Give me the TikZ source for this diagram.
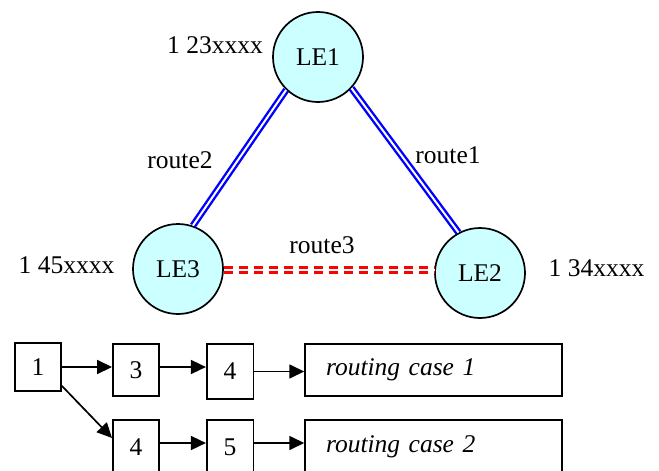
\documentclass[tikz,border=0pt]{standalone}
\usepackage{fontspec}
\setmainfont{Liberation Serif}
\newfontfamily\mainserif{Liberation Serif}
\usetikzlibrary{arrows.meta}
\definecolor{cyanfill}{RGB}{204,255,255}
\begin{document}
\begin{tikzpicture}[x=1pt,y=-1pt,
  every node/.style={font=\mainserif\fontsize{25.5}{30}\selectfont, inner sep=0pt},
  le/.style={circle, draw, line width=1.7pt, fill=cyanfill, minimum size=90pt},
  lbl/.style={},
  box/.style={draw, line width=1.6pt, rectangle},
  casebox/.style={draw, line width=1.6pt, rectangle, minimum width=256.7pt, text width=214.7pt, inner xsep=21pt, align=left, font=\mainserif\fontsize{25.5}{30}\selectfont\itshape},
  blueroute/.style={draw=blue, line width=2.4pt, double=white, double distance=2pt},
  redroute/.style={draw=red, line width=2.8pt, double=white, double distance=2.5pt, dash pattern=on 9pt off 6pt},
  arr/.style={line width=1.7pt, -{Triangle[length=15pt,width=14pt]}}
]
\useasboundingbox (0,0) rectangle (659,471);

% network
\node[le] (LE1) at (318,57) {LE1};
\node[le] (LE3) at (178,269) {LE3};
\node[le] (LE2) at (480,273) {LE2};

\node[lbl] (n1) at (215,45) {1 23xxxx};
\node[lbl] (n3) at (66.5,265) {1 45xxxx};
\node[lbl] (n2) at (596.5,268) {1 34xxxx};

\node[lbl] (r2) at (180,160) {route2};
\node[lbl] (r1) at (448,155) {route1};
\node[lbl] (r3) at (322,245) {route3};

\draw[blueroute] (LE1.226) -- (LE3.71);
\draw[blueroute] (LE1.317) -- (LE2.118);
\draw[redroute] ([yshift=-1pt]LE3.east) -- ([yshift=-1pt]LE3.east -| LE2.west);

% routing trees
\node[box, minimum width=46pt, minimum height=48pt] (b1) at (38,367) {1};
\node[box, minimum width=46.3pt, minimum height=52pt] (b3) at (136,370) {3};
\node[box, minimum width=46.6pt, minimum height=55pt] (b4a) at (230,371.5) {4};
\node[casebox, minimum height=52pt] (rc1) at (433.4,370) {routing case 1};

\node[box, minimum width=46.3pt, minimum height=54pt] (b4b) at (136,447) {4};
\node[box, minimum width=46.6pt, minimum height=54pt] (b5) at (230,447) {5};
\node[casebox, minimum height=54pt] (rc2) at (433.4,447) {routing case 2};

\draw[arr] (b1.east) -- (b1.east -| b3.west);
\draw[arr] ([yshift=3pt]b3.east) -- ([yshift=3pt]b3.east -| b4a.west);
\draw[arr] (b4a.east) -- (b4a.east -| rc1.west);
\draw[arr] ([yshift=6pt]b1.south east) -- ([yshift=9pt]b4b.west);
\draw[arr] ([yshift=4pt]b4b.east) -- ([yshift=4pt]b4b.east -| b5.west);
\draw[arr] ([yshift=4pt]b5.east) -- ([yshift=4pt]b5.east -| rc2.west);
\end{tikzpicture}
\end{document}
